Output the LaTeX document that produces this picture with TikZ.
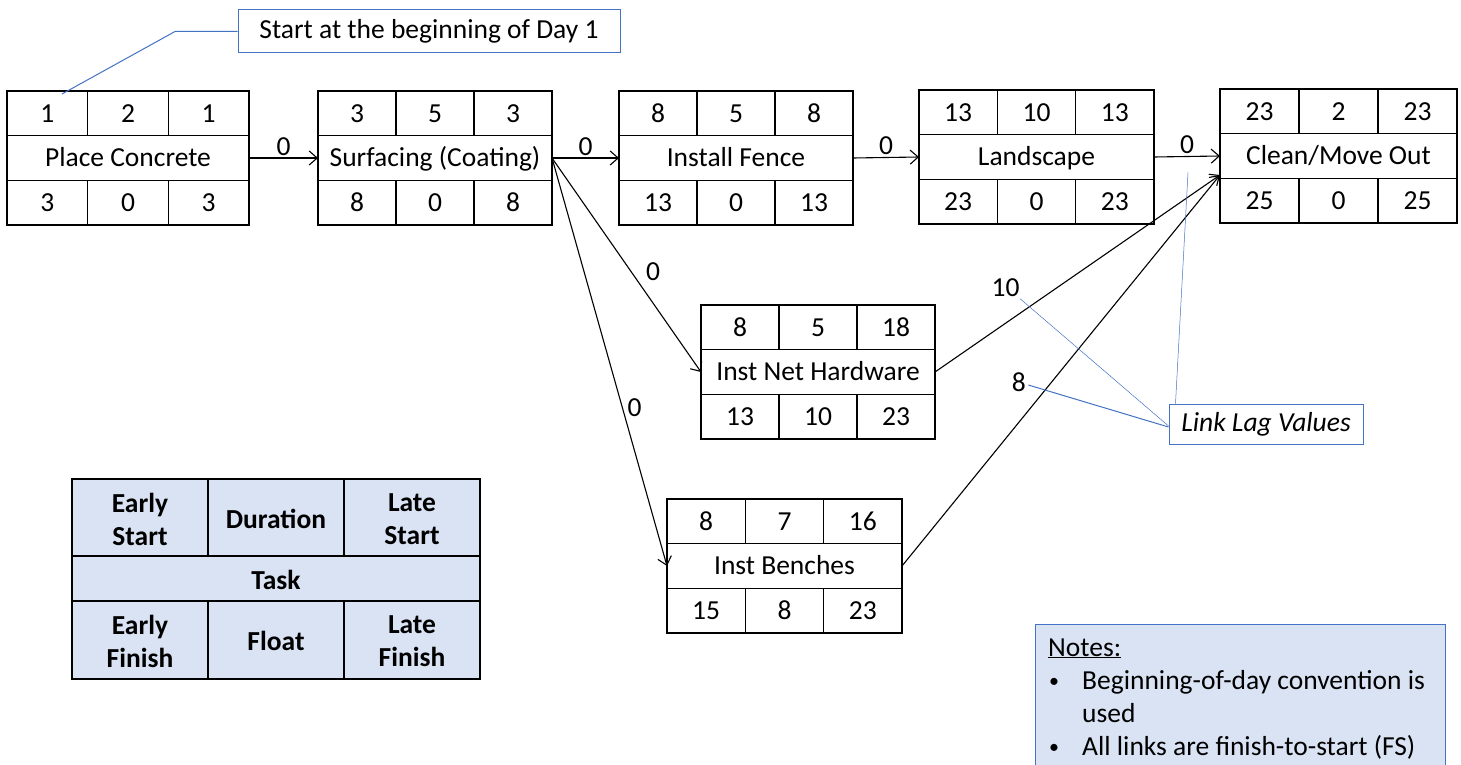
\documentclass[tikz,border=0pt]{standalone}
\usepackage{fontspec}
\setmainfont{Carlito}
\usetikzlibrary{calc,arrows.meta}
\definecolor{lblue}{HTML}{DAE3F3}
\definecolor{mblue}{HTML}{4472C4}
\def\splitthree#1/#2/#3\relax{\def\va{#1}\def\vb{#2}\def\vc{#3}}
\newcommand\tbox[6]{%
  \node[tb, minimum width=#3pt, anchor=north west] (#1) at (#2) {};
  \draw[edge] ($(#1.north west)+(0,44.67)$) -- ($(#1.north east)+(0,44.67)$);
  \draw[edge] ($(#1.south west)+(0,-44.67)$) -- ($(#1.south east)+(0,-44.67)$);
  \foreach \f in {0.33333,0.66667}{
    \draw[edge] ($(#1.north west)!\f!(#1.north east)$) -- ++(0,44.67);
    \draw[edge] ($(#1.south west)!\f!(#1.south east)$) -- ++(0,-44.67);
  }
  \node[cell] (#1-t) at (#1.center) {#5};
  \splitthree#4\relax
  \node[cell] (#1-es) at ($(#1.north west)!0.16667!(#1.north east)+(0,22.3)$) {\va};
  \node[cell] (#1-du) at ($(#1.north west)!0.5!(#1.north east)+(0,22.3)$) {\vb};
  \node[cell] (#1-ls) at ($(#1.north west)!0.83333!(#1.north east)+(0,22.3)$) {\vc};
  \splitthree#6\relax
  \node[cell] (#1-ef) at ($(#1.south west)!0.16667!(#1.south east)+(0,-22.3)$) {\va};
  \node[cell] (#1-fl) at ($(#1.south west)!0.5!(#1.south east)+(0,-22.3)$) {\vb};
  \node[cell] (#1-lf) at ($(#1.south west)!0.83333!(#1.south east)+(0,-22.3)$) {\vc};
}
\begin{document}
\begin{tikzpicture}[x=1pt,y=-1pt, font=\fontsize{27.5}{33}\selectfont,
  edge/.style={line width=1.3pt},
  tb/.style={draw, line width=1.3pt, minimum height=134pt, inner sep=0pt, outer sep=0pt},
  cell/.style={inner sep=0pt, text height=17.7pt, text depth=0pt},
  link/.style={line width=1.1pt, -{Straight Barb[length=8pt,width=14pt,line width=1.1pt]}},
  lbl/.style={inner sep=2pt, text height=17.7pt, text depth=0pt},
  call/.style={mblue, line width=1pt},
  callthin/.style={mblue, line width=0.5pt},
  legtxt/.style={font=\fontsize{27.5}{33}\selectfont\bfseries, align=center, inner sep=0pt}]
\clip (0,0) rectangle (1461,765);
\fill[white] (0,0) rectangle (1461,765);

% task boxes
\tbox{pc}{7,91}{242}{1/2/1}{Place Concrete}{3/0/3}
\tbox{surf}{318,91}{234}{3/5/3}{Surfacing (Coating)}{8/0/8}
\tbox{fence}{619,91}{234}{8/5/8}{Install Fence}{13/0/13}
\tbox{land}{919,90}{235}{13/10/13}{Landscape}{23/0/23}
\tbox{clean}{1220,89}{237}{23/2/23}{Clean/Move Out}{25/0/25}
\tbox{inet}{701,305}{234}{8/5/18}{Inst Net Hardware}{13/10/23}
\tbox{bench}{667,499}{235}{8/7/16}{Inst Benches}{15/8/23}

\coordinate (cleanin) at ($(clean.west)+(0,19)$);

% links
\draw[link] (pc.east) -- node[lbl, above] (lag1) {0} (surf.west);
\draw[link] (surf.east) -- node[lbl, above] (lag2) {0} (fence.west);
\draw[link] (fence.east) -- node[lbl, above] (lag3) {0} (land.west);
\draw[link] (land.east) -- node[lbl, above] (lag0) {0} (clean.west);
\draw[link] (surf.east) -- node[lbl, pos=0.53, xshift=22pt] (lag4) {0} (inet.west);
\draw[link] (surf.east) -- node[lbl, pos=0.613, xshift=12pt] (lag5) {0} (bench.west);
\draw[link] (inet.east) -- node[lbl, pos=0.43, xshift=-52pt] (lag10) {10} (cleanin);
\draw[link] (bench.east) -- node[lbl, pos=0.468, xshift=-32pt] (lag8) {8} (cleanin);

% start callout
\node[draw=mblue, line width=1pt, fill=white, minimum width=382pt, minimum height=43pt, inner sep=0pt] (startbox) at (429,31.5) {Start at the beginning of Day 1};
\coordinate (sbend) at (175,31.5);
\coordinate (spt) at ($(pc.north west)+(55,3)$);
\draw[call] (startbox.west) -- (sbend) -- (spt);

% link lag callout
\node[draw=mblue, line width=1pt, fill=white, minimum width=194pt, minimum height=40pt, inner sep=0pt, font=\fontsize{27.5}{33}\selectfont\itshape] (llv) at (1266,424) {Link Lag Values};
\coordinate (c0) at ($(lag0.south)+(1,16)$);
\coordinate (llvtop) at ($(llv.north west)+(7,0)$);
\draw[callthin] (llvtop) -- (c0);
\draw[callthin] ($(lag10.south east)+(-2,0)$) -- ($(llv.west)+(0,2)$);
\draw[call] ($(lag8.east)+(0,2)$) -- ($(llv.west)+(0,3)$);

% legend
\node[draw, line width=1.3pt, fill=lblue, minimum width=408pt, minimum height=200pt, anchor=north west, inner sep=0pt, outer sep=0pt] (leg) at (72,479) {};
\draw[edge] (72,556) -- (480,556);
\draw[edge] (72,601) -- (480,601);
\draw[edge] (208,479) -- (208,556);
\draw[edge] (344,479) -- (344,556);
\draw[edge] (208,601) -- (208,679);
\draw[edge] (344,601) -- (344,679);
\node[legtxt] (leg-es) at (140,519) {Early\\Start};
\node[legtxt] (leg-du) at (276,519) {Duration};
\node[legtxt] (leg-ls) at (412,519) {Late\\Start};
\node[legtxt] (leg-t) at (276,580) {Task};
\node[legtxt] (leg-ef) at (140,641) {Early\\Finish};
\node[legtxt] (leg-fl) at (276,641) {Float};
\node[legtxt] (leg-lf) at (412,641) {Late\\Finish};

% notes
\node[draw=mblue, line width=1pt, fill=lblue, minimum width=410pt, minimum height=170pt, anchor=north west, inner sep=0pt] (notes) at (1035,624) {};
\node[anchor=base west, inner sep=0pt] (notes-h) at (1048,656) {\underline{Notes:}};
\node[anchor=base west, inner sep=0pt, font=\fontsize{20}{24}\selectfont] (nb1) at (1049,687) {•};
\node[anchor=base west, inner sep=0pt, font=\fontsize{20}{24}\selectfont] (nb2) at (1049,753) {•};
\node[anchor=base west, inner sep=0pt] (nt1a) at (1082,689) {Beginning-of-day convention is};
\node[anchor=base west, inner sep=0pt] (nt1b) at (1082,722) {used};
\node[anchor=base west, inner sep=0pt] (nt2) at (1082,755) {All links are finish-to-start (FS)};
\end{tikzpicture}
\end{document}
